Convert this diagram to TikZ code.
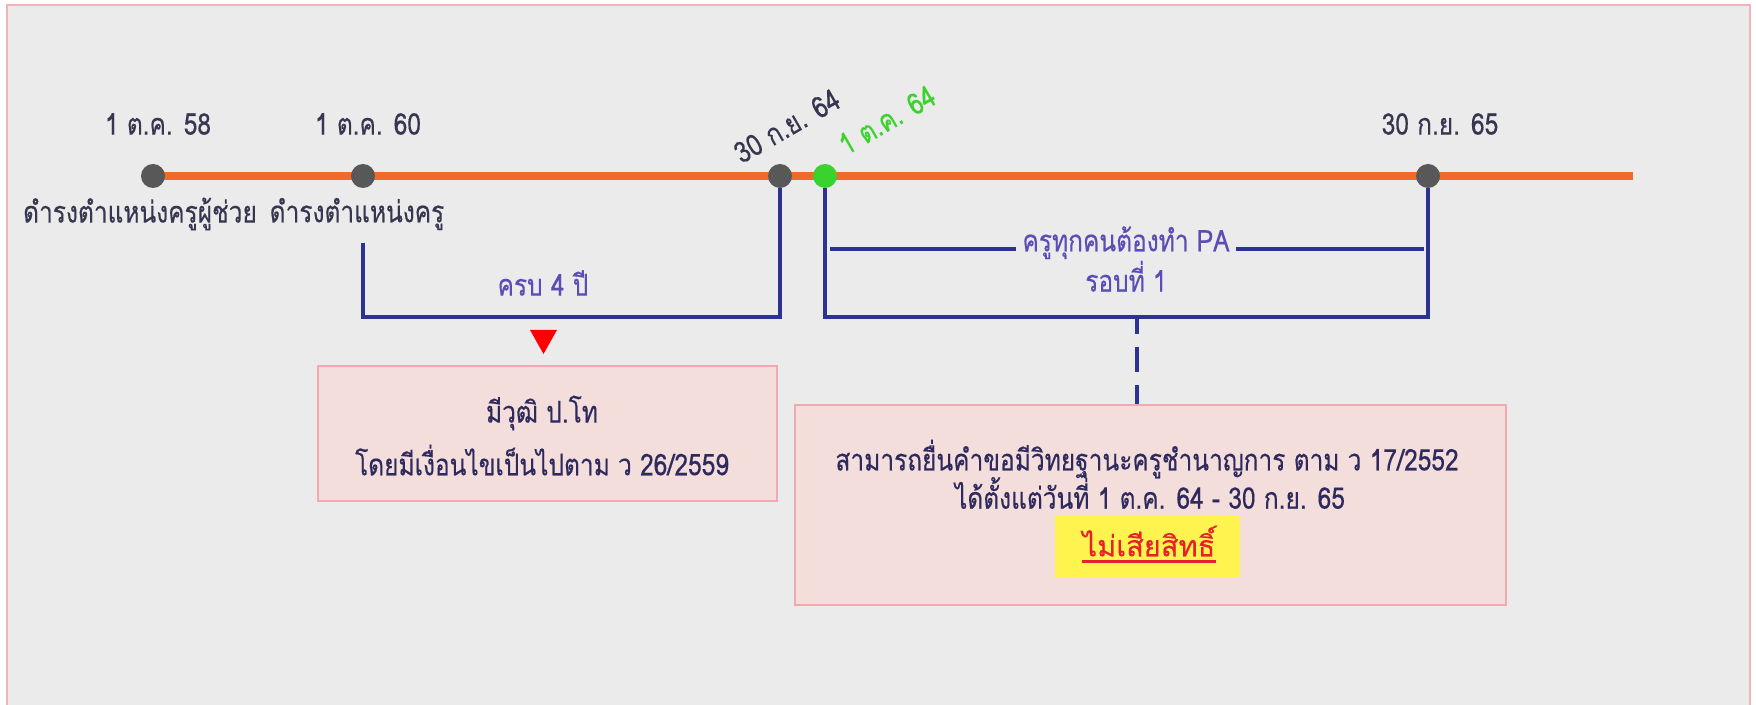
\documentclass[tikz,border=0pt]{standalone}
\usepackage{fontspec}
\newfontfamily\thaifont[Script=Thai, FakeStretch=0.82, FakeBold=0.3]{Loma}
\newfontfamily\thaiplain[Script=Thai, FakeBold=0.3]{Loma}
\usetikzlibrary{calc}
\def\labelfont{\thaifont\fontsize{17}{19.5}\selectfont}
\definecolor{sheet}{HTML}{EBEBEB}
\definecolor{sheet edge}{HTML}{F2B3BA}
\definecolor{time line}{HTML}{F06A2A}
\definecolor{dot gray}{HTML}{585858}
\definecolor{now green}{HTML}{3AD22C}
\definecolor{span blue}{HTML}{2D3392}
\definecolor{span text}{HTML}{5A4DB4}
\definecolor{ink}{HTML}{363650}
\definecolor{box ink}{HTML}{2E2A5E}
\definecolor{box area}{HTML}{F3DEDB}
\definecolor{box edge}{HTML}{F2A9B1}
\definecolor{marker}{HTML}{FFF44F}
\definecolor{alert}{HTML}{E8202A}
\tikzset{dot/.style={circle, fill=dot gray, inner sep=0pt, minimum size=0.48cm},
	date/.style={font=\labelfont, text=ink},
	bracket/.style={draw=span blue, line width=2.2pt},
	note/.style={draw=box edge, fill=box area, line width=1pt}}

\begin{document}
\begin{tikzpicture}[x=0.02cm, y=-0.02cm]

 \useasboundingbox (0,0) rectangle (1756,705);
 \fill[white] (0,0) rectangle (1756,705);
 \begin{scope}
  \clip (0,0) rectangle (1756,705);
  \draw[fill=sheet, draw=sheet edge, line width=1.5pt] (7,5) rectangle (1750,720);
 \end{scope}

 % time line
 \coordinate (t0) at (153,176);
 \coordinate (t1) at (1633,176);
 \draw[draw=time line, line width=4.5pt] (t0) -- (t1);

 \node[dot] (d58) at (t0) {};
 \node[dot] (d60) at (363,176) {};
 \node[dot] (d64a) at (780,176) {};
 \node[dot, fill=now green] (d64b) at (825,176) {};
 \node[dot] (d65) at (1428,176) {};

 \node[date] (l58) at (158,124) {1 ต.ค. 58};
 \node[date] (l60) at (368,124) {1 ต.ค. 60};
 \node[date, rotate=30] (l64a) at (787,126) {30 ก.ย. 64};
 \node[date, text=now green, rotate=30] (l64b) at (887,120) {1 ต.ค. 64};
 \node[date] (l65) at (1440,124) {30 ก.ย. 65};

 \node[date] (r58) at (140,214) {ดำรงตำแหน่งครูผู้ช่วย};
 \node[date] (r60) at (357,214) {ดำรงตำแหน่งครู};

 % four years
 \draw[bracket] (d60 |- 0,243) |- (d64a |- 0,317) -- (d64a);
 \node[date, text=span text] (full) at (543,283) {ครบ 4 ปี};
 \fill[red] (530,330) -- (557,330) -- (543.5,354) -- cycle;

 \node[note, minimum width=9.18cm, minimum height=2.7cm] (degree) at (547.5,433.5) {};
 \node[date, text=box ink] (deg1) at (542,413) {มีวุฒิ ป.โท};
 \node[date, text=box ink] (deg2) at (542,460) {โดยมีเงื่อนไขเป็นไปตาม ว 26/2559};

 % PA round
 \coordinate (pa mid) at (1137,317);
 \draw[bracket] (d64b) |- (pa mid) -| (d65);
 \node[date, text=span text, align=center] (pa) at (1126,259) {ครูทุกคนต้องทำ PA\\รอบที่ 1};
 \draw[bracket, shorten <=3pt] (d64b |- 0,249) -- (pa.west |- 0,249);
 \draw[bracket, shorten >=2pt] (pa.east |- 0,249) -- (d65 |- 0,249);

 \node[note, minimum width=14.22cm, minimum height=4cm] (pabox) at (1150.5,505) {};
 \draw[bracket, dash pattern=on 14.2pt off 7.4pt, dash phase=4.5pt] (pa mid) -- (pa mid |- pabox.north);
 \node[date, text=box ink] (rule) at (1147,459) {สามารถยื่นคำขอมีวิทยฐานะครูชำนาญการ ตาม ว 17/2552};
 \node[date, text=box ink] (period) at (1150,493) {ได้ตั้งแต่วันที่ 1 ต.ค. 64 - 30 ก.ย. 65};
 \node[fill=marker, minimum width=3.7cm, minimum height=1.26cm] (keep) at (1147.5,546.5) {};
 \node[font=\thaiplain\fontsize{16.5}{19}\selectfont, text=alert, inner xsep=0pt] (kw) at (1149,541) {ไม่เสียสิทธิ์};
 \draw[draw=alert, line width=1.2pt] ([yshift=-3pt]kw.base west) -- ([yshift=-3pt]kw.base east);

\end{tikzpicture}
\end{document}
